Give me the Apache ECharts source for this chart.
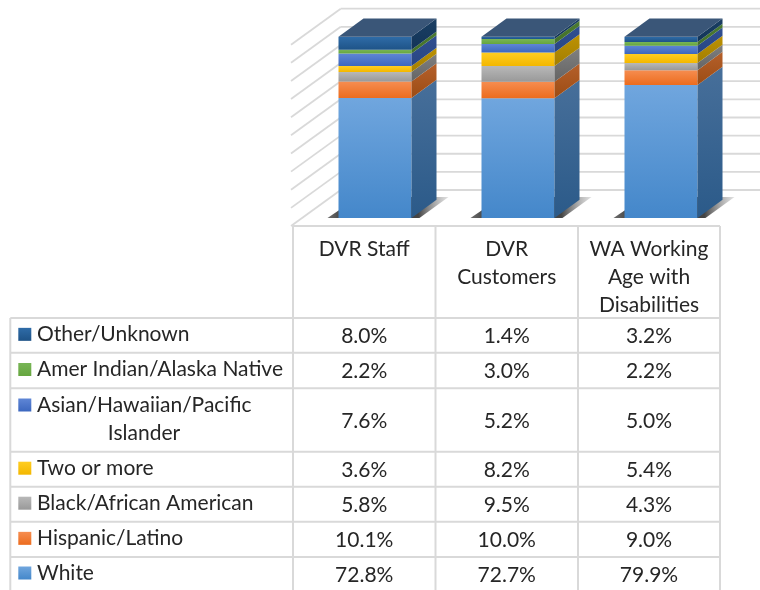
<!DOCTYPE html>
<html>
<head>
<meta charset="utf-8">
<script src="https://cdn.jsdelivr.net/npm/echarts@6/dist/echarts.min.js"></script>
<style>
  html, body { margin: 0; padding: 0; background: #fff; }
  #chart { width: 760px; height: 590px; }
</style>
</head>
<body>
<div id="chart"></div>
<script>
var categories = ['DVR Staff', 'DVR\nCustomers', 'WA Working\nAge with\nDisabilities']
var yTicks = [0, 10, 20, 30, 40, 50, 60, 70, 80, 90, 100]

// bottom of the stack first, table reads the other way round
var seriesNames = ['White', 'Hispanic/Latino', 'Black/African American', 'Two or more',
  'Asian/Hawaiian/Pacific\n              Islander', 'Amer Indian/Alaska Native', 'Other/Unknown']
var white = [72.8, 72.7, 79.9]
var hispanic = [10.1, 10.0, 9.0]
var black = [5.8, 9.5, 4.3]
var twoOrMore = [3.6, 8.2, 5.4]
var asian = [7.6, 5.2, 5.0]
var amerIndian = [2.2, 3.0, 2.2]
var other = [8.0, 1.4, 3.2]
var seriesValues = [white, hispanic, black, twoOrMore, asian, amerIndian, other]

var frontColors = [
  ['#70a6de', '#4487ca'], ['#f68d50', '#ec6c1e'], ['#b8b8b8', '#999999'], ['#ffcd22', '#f3b700'],
  ['#5f86d6', '#3c67bf'], ['#78b556', '#66a63f'], ['#2f6ca8', '#1e5387']
]
var sideColors = [
  ['#476f9a', '#2b5a89'], ['#b5602b', '#9c4c14'], ['#808080', '#646464'], ['#bd9204', '#a37e00'],
  ['#304f91', '#294683'], ['#4c7b32', '#437029'], ['#1b3f63', '#123458']
]
var topColor = '#3a5678'
var gridColor = '#d9d9d9'
var textColor = '#262626'
var fontName = 'Lato'

var barWidth = 73
var depthX = 25
var depthY = 18.3

function grad (pair) {
  return new echarts.graphic.LinearGradient(0, 0, 0, 1, [
    { offset: 0, color: pair[0] },
    { offset: 1, color: pair[1] }
  ])
}

// 100% stacked: each column is scaled by its own total
var totals = categories.map(function (c, i) {
  return seriesValues.reduce(function (sum, s) { return sum + s[i] }, 0)
})

var barSeries = seriesValues.map(function (values, s) {
  var data = values.map(function (v, i) {
    var start = 0
    for (var k = 0; k < s; k++) start += seriesValues[k][i]
    return [i, start / totals[i] * 100, (start + v) / totals[i] * 100]
  })
  return {
    type: 'custom',
    name: seriesNames[s],
    silent: true,
    z: 5,
    data: data,
    renderItem: function (params, api) {
      var low = api.coord([api.value(0), api.value(1)])
      var high = api.coord([api.value(0), api.value(2)])
      var x0 = low[0] - barWidth / 2
      var x1 = low[0] + barWidth / 2
      var children = [
        { type: 'rect', shape: { x: x0, y: high[1], width: barWidth, height: low[1] - high[1] }, style: { fill: grad(frontColors[s]) } },
        { type: 'polygon', shape: { points: [[x1, low[1]], [x1 + depthX, low[1] - depthY], [x1 + depthX, high[1] - depthY], [x1, high[1]]] }, style: { fill: grad(sideColors[s]) } }
      ]
      if (s === seriesValues.length - 1) {
        children.push({ type: 'polygon', shape: { points: [[x0, high[1]], [x1, high[1]], [x1 + depthX, high[1] - depthY], [x0 + depthX, high[1] - depthY]] }, style: { fill: topColor } })
      }
      return { type: 'group', children: children }
    }
  }
})

var wallSeries = {
  type: 'custom',
  silent: true,
  z: 1,
  data: yTicks.map(function (t) { return [0, t] }),
  renderItem: function (params, api) {
    var y = api.coord([0, api.value(1)])[1]
    var line = { stroke: gridColor, lineWidth: 1.8 }
    return {
      type: 'group',
      children: [
        { type: 'line', shape: { x1: 291, y1: y + 8, x2: 340.7, y2: y - 28 }, style: line },
        { type: 'line', shape: { x1: 340.7, y1: y - 28, x2: 760, y2: y - 28 }, style: line }
      ]
    }
  }
}

var shadowSeries = {
  type: 'custom',
  silent: true,
  z: 2,
  data: categories.map(function (c, i) { return [i, 0] }),
  renderItem: function (params, api) {
    var p = api.coord([api.value(0), 0])
    var x0 = p[0] - barWidth / 2
    var x1 = p[0] + barWidth / 2
    return {
      type: 'polygon',
      shape: { points: [[x0 - 11, p[1]], [x1 + 8, p[1]], [x1 + 37, p[1] - 21], [x0 + 20, p[1] - 21]] },
      style: {
        fill: new echarts.graphic.LinearGradient(0, 0, 1, 0, [
          { offset: 0, color: '#6e6e6e' },
          { offset: 0.12, color: '#444' },
          { offset: 0.75, color: '#444' },
          { offset: 1, color: 'rgba(170,170,170,0.35)' }
        ])
      }
    }
  }
}

// table under the chart
var rowLines = [318, 352.7, 388.3, 451.7, 486.7, 521.7, 557]
var colLines = [293, 435.5, 578, 720]
var tableLeft = 10.3
var tableTop = 226
var graphics = []

function hLine (x1, x2, y) {
  graphics.push({ type: 'line', silent: true, z: 10, shape: { x1: x1, y1: y, x2: x2, y2: y }, style: { stroke: gridColor, lineWidth: 2 } })
}
function vLine (x, y1, y2) {
  graphics.push({ type: 'line', silent: true, z: 10, shape: { x1: x, y1: y1, x2: x, y2: y2 }, style: { stroke: gridColor, lineWidth: 2 } })
}
function label (text, x, y, align) {
  graphics.push({
    type: 'text', silent: true, z: 11, x: x, y: y,
    style: { text: text, fill: textColor, font: '21px ' + fontName, align: align, verticalAlign: 'middle', lineHeight: 28 }
  })
}

hLine(colLines[0], colLines[3], tableTop)
rowLines.forEach(function (y) { hLine(tableLeft, colLines[3], y) })
colLines.forEach(function (x) { vLine(x, tableTop, 590) })
vLine(tableLeft, rowLines[0], 590)

categories.forEach(function (c, i) {
  var lines = c.split('\n')
  lines.forEach(function (t, k) {
    label(t, (colLines[i] + colLines[i + 1]) / 2, 249 + k * 28, 'center')
  })
})

var rowBottoms = rowLines.slice(1).concat([591])
for (var r = 0; r < rowLines.length; r++) {
  var s = seriesValues.length - 1 - r
  var mid = (rowLines[r] + rowBottoms[r]) / 2
  var firstLine = r === 2 ? 405 : mid - 1
  graphics.push({
    type: 'rect', silent: true, z: 11,
    shape: { x: 18.3, y: firstLine - 6.5, width: 13, height: 13 },
    style: { fill: grad(frontColors[s]) }
  })
  seriesNames[s].split('\n').forEach(function (t, k) {
    if (k === 0) label(t, 37, firstLine, 'left')
    else label(t.trim(), 144, firstLine + 28, 'center')
  })
  seriesValues[s].forEach(function (v, i) {
    label(v.toFixed(1) + '%', (colLines[i] + colLines[i + 1]) / 2, mid + 1, 'center')
  })
}

var chart = echarts.init(document.getElementById('chart'))
chart.setOption({
  backgroundColor: '#fff',
  animation: false,
  grid: { left: 303.5, width: 429, top: 36.7, height: 181.3 },
  xAxis: { type: 'category', data: categories, show: false },
  yAxis: { type: 'value', min: 0, max: 100, interval: 10, show: false },
  series: [wallSeries, shadowSeries].concat(barSeries),
  graphic: graphics
})
</script>
</body>
</html>
